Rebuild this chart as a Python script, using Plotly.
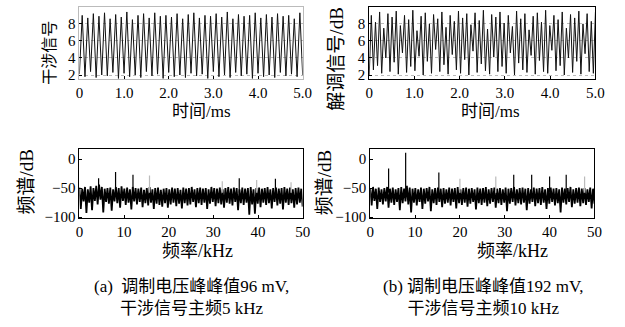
import numpy as np
import plotly.graph_objects as go

# ---------------- data ----------------
# (a) interference signal, time 0..5 ms (alternating extrema)
sig_a = [2.1, 9.0, 1.8, 8.7, 2.4, 9.2, 1.7, 8.9, 2.0, 9.3, 1.9, 8.6, 2.3, 9.1, 1.6, 8.8,
         2.2, 9.4, 1.8, 8.5, 2.0, 9.0, 1.7, 9.2, 2.4, 8.7, 1.9, 9.3, 2.1, 8.9, 1.6, 9.0,
         2.3, 8.8, 1.8, 9.2, 2.0, 8.6, 1.7, 9.1, 2.2, 9.3, 1.9, 8.7, 2.1, 9.0, 1.6, 8.9,
         2.4, 9.2, 1.8, 8.8, 2.0, 9.4, 1.7, 8.6, 2.3, 9.1, 1.9, 8.9, 2.1, 9.0, 1.6, 9.3,
         2.2, 8.7, 1.8, 9.1, 2.0, 8.8, 1.7, 9.2, 2.3, 8.9, 1.9, 9.0, 2.1, 8.6, 1.8, 9.3, 2.0]

# (b) demodulated signal, time 0..5 ms
sig_b = [2.0, 9.0, 2.6, 8.2, 3.1, 9.4, 2.2, 7.5, 4.0, 9.2, 2.4, 8.8, 3.5, 9.5, 2.1, 7.8,
         4.6, 9.0, 2.3, 8.5, 3.0, 9.6, 2.5, 7.2, 4.2, 8.9, 2.0, 9.3, 3.6, 8.0, 2.2, 9.1,
         5.0, 8.6, 2.4, 9.4, 3.2, 7.6, 2.1, 9.0, 4.4, 8.3, 2.6, 9.5, 2.2, 8.7, 3.8, 9.2,
         2.0, 7.9, 4.8, 9.3, 2.3, 8.4, 3.3, 9.6, 2.5, 7.4, 2.1, 9.1, 4.1, 8.8, 2.4, 9.4,
         3.0, 8.1, 2.2, 9.0, 4.6, 7.7, 2.0, 9.5, 3.4, 8.6, 2.6, 9.2, 2.3, 7.3, 4.3, 8.9,
         2.1, 9.3, 3.7, 8.2, 2.4, 9.6, 2.2, 7.8, 4.9, 9.0, 2.5, 8.5, 3.1, 9.4, 2.0, 7.5,
         4.0, 9.1, 2.3, 8.7, 3.6, 9.5, 2.1, 8.0, 4.5, 9.2, 2.4, 8.3, 2.2, 9.4]

# (a) spectrum noise floor, 0..50 kHz (dB)
noise_a = [-49, -86, -51, -73, -48, -93, -52, -75, -47, -88, -50, -72, -46, -78, -44, -70,
           -48, -92, -51, -74, -50, -77, -49, -89, -52, -73, -48, -76, -50, -84, -47, -72,
           -51, -79, -49, -75, -52, -87, -48, -73, -50, -78, -51, -74, -49, -83, -53, -76,
           -50, -80, -48, -75, -52, -86, -50, -77, -49, -79, -53, -82, -51, -76, -50, -84,
           -52, -78, -49, -75, -51, -81, -50, -77, -53, -85, -49, -76, -51, -80, -50, -78,
           -48, -74, -52, -83, -50, -76, -49, -79, -51, -75, -50, -86, -52, -77, -48, -74,
           -50, -81, -51, -76, -49, -78, -52, -84, -50, -75, -48, -77, -51, -80, -49, -74,
           -50, -88, -52, -76, -49, -79, -51, -75, -50, -96, -48, -78, -52, -94, -50, -77,
           -49, -83, -51, -75, -50, -79, -48, -76, -52, -85, -50, -74, -49, -80, -51, -77,
           -50, -87, -48, -75, -51, -79, -49, -76, -52, -84, -50, -78, -49, -75, -51, -82]

# (b) spectrum noise floor, 0..50 kHz (dB)
noise_b = [-50, -80, -48, -72, -51, -86, -49, -74, -52, -78, -50, -73, -48, -84, -51, -75,
           -49, -79, -52, -74, -50, -88, -48, -76, -51, -73, -46, -78, -49, -92, -51, -75,
           -50, -80, -52, -74, -49, -86, -51, -77, -50, -73, -48, -90, -52, -76, -50, -79,
           -49, -74, -51, -83, -50, -77, -52, -75, -49, -80, -51, -74, -50, -85, -48, -76,
           -52, -79, -50, -75, -49, -82, -51, -77, -50, -74, -52, -87, -49, -76, -51, -79,
           -50, -75, -48, -81, -52, -77, -50, -74, -49, -84, -51, -76, -50, -79, -52, -75,
           -49, -90, -51, -77, -50, -74, -48, -80, -52, -76, -50, -78, -49, -75, -51, -88,
           -50, -77, -52, -74, -49, -81, -51, -76, -50, -79, -48, -75, -52, -86, -50, -77,
           -49, -74, -51, -80, -50, -76, -52, -92, -49, -75, -51, -78, -50, -74, -48, -83,
           -52, -77, -50, -75, -49, -81, -51, -76, -50, -79, -52, -74, -49, -85, -51, -77]

# spectral lines (kHz, dB)
peak_a_freq = [4.3, 8.1, 12.0, 35.8, 43.9]
peak_a_db = [-33, -22, -27, -33, -34]
faint_a_freq = [15.7, 32.0, 39.7, 47.4]
faint_a_db = [-28, -38, -36, -40]

peak_b_freq = [4.1, 7.9, 15.3, 32.0, 36.0, 40.0, 43.7]
peak_b_db = [-16, 11, -23, -27, -27, -30, -27]
faint_b_freq = [20.0, 28.0, 47.8]
faint_b_db = [-34, -30, -30]

time_ticks = [0, 1, 2, 3, 4, 5]
time_ticktext = ["0", "1.0", "2.0", "3.0", "4.0", "5.0"]
sig_ticks = [2, 4, 6, 8]
freq_ticks = [0, 10, 20, 30, 40, 50]
db_ticks = [0, -50, -100]

# ---------------- figure ----------------
W, H = 625, 327
FONT = "Liberation Serif, Noto Sans CJK SC, serif"


def px(x):
    return min(1.0, max(0.0, x / W))


def py(y):
    return min(1.0, max(0.0, 1 - y / H))


def spikes(freqs, levels, base=-58):
    xs, ys = [], []
    for f, l in zip(freqs, levels):
        xs += [f, f, None]
        ys += [base, l, None]
    return xs, ys


fig = go.Figure()

t_a = np.linspace(0, 5, len(sig_a))
t_b = np.linspace(0, 5, len(sig_b))
f_a = np.linspace(0, 50, len(noise_a))
f_b = np.linspace(0, 50, len(noise_b))

sig_line = dict(color="#111111", width=1)
noise_line = dict(color="black", width=1.8)
fig.add_trace(go.Scatter(x=t_a, y=sig_a, mode="lines", line=sig_line, xaxis="x", yaxis="y"))
fig.add_trace(go.Scatter(x=t_b, y=sig_b, mode="lines", line=sig_line, xaxis="x2", yaxis="y2"))

fig.add_trace(go.Scatter(x=f_a, y=noise_a, mode="lines", line=noise_line, xaxis="x3", yaxis="y3"))
sx, sy = spikes(peak_a_freq, peak_a_db)
fig.add_trace(go.Scatter(x=sx, y=sy, mode="lines", line=dict(color="black", width=1.2), xaxis="x3", yaxis="y3"))
sx, sy = spikes(faint_a_freq, faint_a_db)
fig.add_trace(go.Scatter(x=sx, y=sy, mode="lines", line=dict(color="#bbbbbb", width=1.2), xaxis="x3", yaxis="y3"))

fig.add_trace(go.Scatter(x=f_b, y=noise_b, mode="lines", line=noise_line, xaxis="x4", yaxis="y4"))
sx, sy = spikes(peak_b_freq, peak_b_db)
fig.add_trace(go.Scatter(x=sx, y=sy, mode="lines", line=dict(color="black", width=1.2), xaxis="x4", yaxis="y4"))
sx, sy = spikes(faint_b_freq, faint_b_db)
fig.add_trace(go.Scatter(x=sx, y=sy, mode="lines", line=dict(color="#bbbbbb", width=1.2), xaxis="x4", yaxis="y4"))

tickfont = dict(family=FONT, size=15, color="black")


def xax(dom, anchor, vals, text, rng, linecolor="black"):
    return dict(domain=dom, anchor=anchor, range=rng, tickvals=vals, ticktext=text,
                showgrid=False, zeroline=False, showline=True, linecolor=linecolor,
                linewidth=1, mirror=True, ticks="inside", ticklen=3, tickcolor="black",
                tickfont=tickfont)


def yax(dom, anchor, vals, rng, grid=False, linecolor="black"):
    return dict(domain=dom, anchor=anchor, range=rng, tickvals=vals,
                showgrid=grid, gridcolor="#bbbbbb", griddash="dot", gridwidth=1,
                zeroline=False, showline=True, linecolor=linecolor, linewidth=1,
                mirror=True, ticks="inside", ticklen=3, tickcolor="black",
                tickfont=tickfont)


top_dom = [py(81), py(7)]
bot_dom = [py(223), py(152)]
left_dom = [px(77), px(305)]
right_dom = [px(373), px(604)]
right_dom2 = [px(374), px(603)]

fig.update_layout(
    width=W, height=H,
    margin=dict(l=0, r=0, t=0, b=0),
    paper_bgcolor="white", plot_bgcolor="white",
    showlegend=False,
    font=dict(family=FONT, color="black"),
    xaxis=xax(left_dom, "y", time_ticks, time_ticktext, [0, 5], "#bbbbbb"),
    yaxis=yax(top_dom, "x", sig_ticks, [1.5, 10], True, "#bbbbbb"),
    xaxis2=xax(right_dom, "y2", time_ticks, time_ticktext, [0, 5]),
    yaxis2=yax(top_dom, "x2", sig_ticks, [1.5, 10], True),
    xaxis3=xax(left_dom, "y3", freq_ticks, [str(v) for v in freq_ticks], [0, 50]),
    yaxis3=yax(bot_dom, "x3", db_ticks, [-102, 18]),
    xaxis4=xax(right_dom2, "y4", freq_ticks, [str(v) for v in freq_ticks], [0, 50]),
    yaxis4=yax(bot_dom, "x4", db_ticks, [-102, 18]),
)

anns = [
    ("干涉信号", 47, 54, -90, 16),
    ("时间/ms", 202, 114, 0, 17),
    ("解调信号/dB", 340, 60, -90, 19),
    ("时间/ms", 497, 114, 0, 17),
    ("频谱/dB", 22, 186, -90, 19),
    ("频率/kHz", 198, 256, 0, 18),
    ("频谱/dB", 328, 187, -90, 19),
    ("频率/kHz", 519, 256, 0, 18),
    ("(a)  调制电压峰峰值96 mV,<br>干涉信号主频5 kHz", 191, 304, 0, 17),
    ("(b) 调制电压峰峰值192 mV,<br>干涉信号主频10 kHz", 489, 304, 0, 17),
]
for text, x, y, ang, size in anns:
    fig.add_annotation(text=text, x=px(x), y=py(y), xref="paper", yref="paper",
                       showarrow=False, textangle=ang, xanchor="center", yanchor="middle",
                       align="center",
                       font=dict(family=FONT, size=size, color="black"))

# remove the default 8 px page margin so the figure sits at the window's corner
fig.write_html("out.html", config={"displayModeBar": False},
               post_script="document.body.style.margin='0px';")
